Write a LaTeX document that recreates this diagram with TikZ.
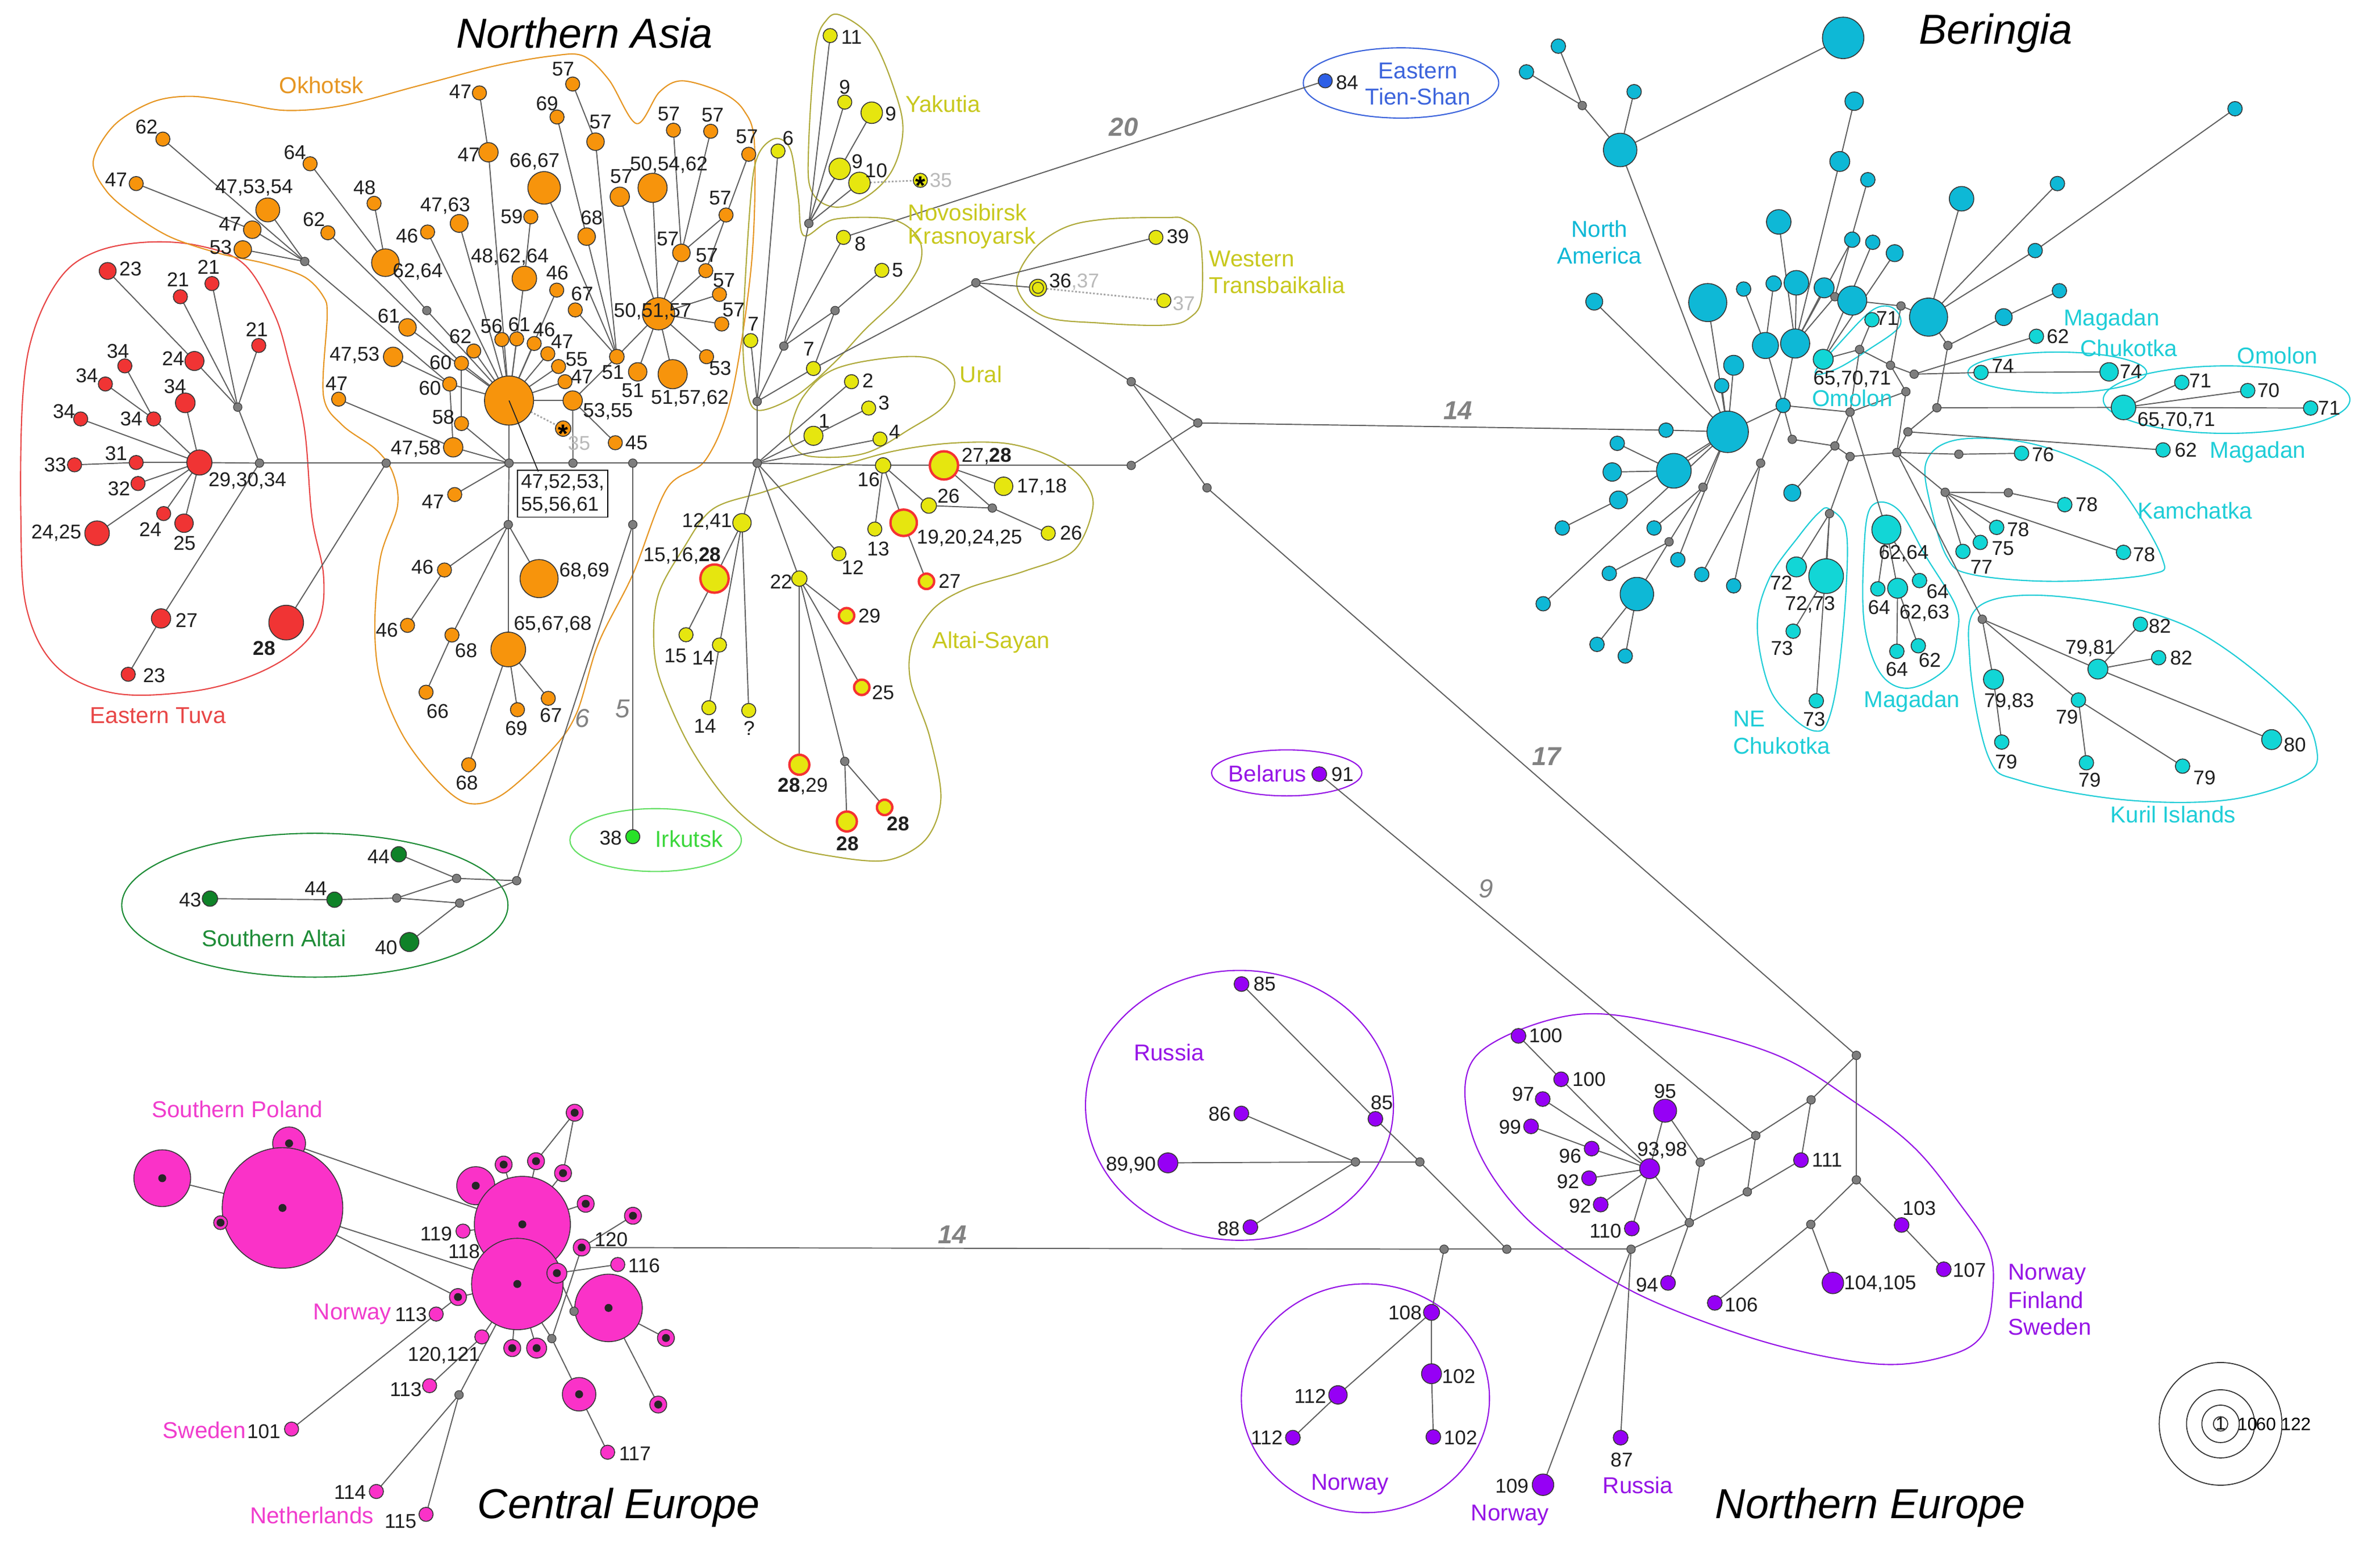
\documentclass[tikz,border=0pt]{standalone}
\usepackage{fontspec}
\setmainfont{Liberation Sans}
\pgfdeclarelayer{bg}
\pgfsetlayers{bg,main}
\definecolor{cOr}{RGB}{247,148,12}
\definecolor{cOrL}{RGB}{230,150,35}
\definecolor{cRd}{RGB}{240,52,52}
\definecolor{cRdL}{RGB}{232,70,70}
\definecolor{cYe}{RGB}{230,230,15}
\definecolor{cYeL}{RGB}{200,200,30}
\definecolor{cYeO}{RGB}{175,170,60}
\definecolor{cRing}{RGB}{245,50,50}
\definecolor{cGd}{RGB}{15,130,40}
\definecolor{cGdL}{RGB}{30,140,55}
\definecolor{cGl}{RGB}{40,225,40}
\definecolor{cGlL}{RGB}{60,215,60}
\definecolor{cBl}{RGB}{45,95,230}
\definecolor{cBlL}{RGB}{60,100,220}
\definecolor{cCy}{RGB}{14,184,214}
\definecolor{cTq}{RGB}{18,214,214}
\definecolor{cTqL}{RGB}{30,205,215}
\definecolor{cPu}{RGB}{150,0,245}
\definecolor{cPuL}{RGB}{150,20,230}
\definecolor{cPk}{RGB}{250,50,200}
\definecolor{cPkL}{RGB}{240,60,205}
\definecolor{cGy}{RGB}{125,125,125}
\definecolor{edgeC}{RGB}{95,95,95}
\definecolor{bordC}{RGB}{55,55,55}
\definecolor{cNum}{RGB}{130,130,130}
\newcounter{lbc}
\newcommand\ML[3][]{\stepcounter{lbc}\node[lab,#1] (lbl\arabic{lbc}) at (#2) {#3};}
\newcommand\PK[4][]{\node[nK=#4,#1] (#2) at (#3) {};\node[dotk] (#2d) at (#3) {};}
\tikzset{
  ed/.style={draw=edgeC, line width=0.55pt},
  dtl/.style={draw=gray!70, line width=0.8pt, dash pattern=on 0.9pt off 0.9pt},
  bs/.style={circle, inner sep=0pt, outer sep=0pt, draw=bordC, line width=0.45pt, minimum size={0.054cm*(#1)}},
  nR/.style={bs=#1, fill=cRd}, nR/.default=4.6,
  nO/.style={bs=#1, fill=cOr}, nO/.default=4.6,
  nY/.style={bs=#1, fill=cYe}, nY/.default=4.6,
  nYR/.style={bs=#1, fill=cYe, draw=cRing, line width=1.2pt}, nYR/.default=5,
  nC/.style={bs=#1, fill=cCy}, nC/.default=4.7,
  nT/.style={bs=#1, fill=cTq}, nT/.default=4.7,
  nP/.style={bs=#1, fill=cPu}, nP/.default=4.8,
  nK/.style={bs=#1, fill=cPk}, nK/.default=4.6,
  nGd/.style={bs=#1, fill=cGd}, nGd/.default=5,
  nG/.style={circle, inner sep=0pt, outer sep=0pt, fill=cGy, draw=gray!50!black, line width=0.35pt, minimum size=0.15cm},
  dotk/.style={circle, inner sep=0pt, fill=black!85, minimum size=0.14cm},
  lab/.style={font=\fontsize{10}{11}\selectfont, inner sep=0pt, text=black!88},
  rl/.style={font=\fontsize{11.5}{13}\selectfont, inner sep=0pt},
  ttl/.style={font=\fontsize{21}{24}\selectfont\itshape, inner sep=0pt, text=black},
  nb/.style={font=\fontsize{13}{14}\selectfont\itshape, text=cNum, inner sep=0pt},
  nbb/.style={font=\fontsize{13}{14}\selectfont\bfseries\itshape, text=cNum, inner sep=0pt},
  ast/.style={font=\fontsize{13}{13}\selectfont\bfseries, inner sep=0pt, yshift=-2.6pt},
  ol/.style={line width=0.6pt},
  lg/.style={circle, draw=black!80, line width=0.5pt, inner sep=0pt, minimum size={0.054cm*(#1)}},
}
\begin{document}
\begin{tikzpicture}[x=0.027cm, y=-0.027cm]
\useasboundingbox (0,0) rectangle (1551.85,1008.15);
\begin{pgfonlayer}{bg}\fill[white] (0,0) rectangle (1551.85,1008.15);\end{pgfonlayer}

% ---------------- titles
\node[ttl] (T1) at (381.1,21.5) {Northern Asia};
\node[ttl] (T2) at (1301.3,21.5) {Beringia};
\node[ttl] (T3) at (403.4,983.1) {Central Europe};
\node[ttl] (T4) at (1219.5,983.1) {Northern Europe};

% ---------------- Eastern Tuva (red)
\node[nR=5.5] (r23a) at (70.2,176.7) {};
\node[nR] (r21a) at (117.6,193.5) {};
\node[nR] (r21b) at (138.2,184.9) {};
\node[nR] (r21c) at (168.7,225.3) {};
\node[nR=6.2] (r24a) at (126.8,235.4) {};
\node[nR] (r34a) at (81.4,238.6) {};
\node[nR] (r34b) at (68.7,250.4) {};
\node[nR=6.4] (r34c) at (120.8,262.7) {};
\node[nR] (r34d) at (52.6,273.2) {};
\node[nR] (r34e) at (100.2,273.2) {};
\node[nR] (r33) at (48.6,303.1) {};
\node[nR] (r31) at (88.8,301.6) {};
\node[nR=8.2] (rH) at (130,301.6) {};
\node[nR] (r32) at (90,315.3) {};
\node[nR=8] (r2425) at (63.3,347.7) {};
\node[nR] (r24b) at (106.7,334.9) {};
\node[nR=6] (r25) at (120,341.2) {};
\node[nR=6.3] (r27) at (105,403.3) {};
\node[nR=11.3] (r28) at (186.6,406) {};
\node[nR] (r23b) at (83.6,439.7) {};
\node[nG] (rg1) at (155,265.5) {};
\node[nG] (rg2) at (169.2,302) {};
\node[nG] (rg3) at (251.8,302) {};

% ---------------- Okhotsk (orange)
\node[nO=16] (oBN) at (331.9,261.2) {};
\node[nO] (o62a) at (106.2,90.7) {};
\node[nO] (o47a) at (88.8,119.7) {};
\node[nO] (o64a) at (202.2,106.8) {};
\node[nO=7.8] (o475354) at (174.6,136.9) {};
\node[nO=5.7] (o47b) at (164.5,149.8) {};
\node[nO=5.7] (o53a) at (158.3,162.7) {};
\node[nG] (og1) at (198.7,170.5) {};
\node[nO] (o62b) at (213.8,151.8) {};
\node[nO] (o48) at (243.9,132.6) {};
\node[nO=9] (o6264) at (251.3,171.3) {};
\node[nO=5.8] (o4763) at (299.4,145.7) {};
\node[nO] (o46a) at (278.8,151.3) {};
\node[nG] (og2) at (278.3,202.5) {};
\node[nO=5.7] (o61a) at (265.7,213.5) {};
\node[nO=6.3] (o4753) at (256.3,232.7) {};
\node[nO] (o47c) at (220.8,260.3) {};
\node[nO] (o62c) at (308.9,228.9) {};
\node[nO] (o60a) at (300.9,236.9) {};
\node[nO] (o60b) at (293.2,250.4) {};
\node[nO] (o58) at (300.9,276.2) {};
\node[nO=6.3] (o4758) at (295.5,291.7) {};
\node[nO] (o56) at (327.2,221.4) {};
\node[nO] (o61b) at (336.9,221) {};
\node[nO] (o46b) at (348.3,224) {};
\node[nO] (o47d) at (357.2,230.7) {};
\node[nO] (o55) at (364.2,239) {};
\node[nO] (o47e) at (368.4,248.9) {};
\node[nO=6.3] (o5355) at (373.4,261.2) {};
\node[nO=5] (o35) at (367.2,279.5) {};
\node[ast] (o35s) at (367.2,279.5) {*};
\node[nG] (og3) at (331.9,302) {};
\node[nG] (og4) at (373.6,302) {};
\node[nO] (o47f) at (296.5,322.5) {};
\node[nO] (o46c) at (363,189.2) {};
\node[nO] (o67a) at (375.1,202.1) {};
\node[nO=8] (o486264) at (341.9,181.6) {};
\node[nO] (o59) at (346.1,141.4) {};
\node[nO=10.6] (o6667) at (354.8,122.5) {};
\node[nO=6.3] (o47g) at (318.5,99.3) {};
\node[nO] (o47h) at (312.6,60.6) {};
\node[nO] (o69a) at (363.2,76.3) {};
\node[nO] (o57a) at (373.4,54.8) {};
\node[nO=5.7] (o68a) at (382.5,154.3) {};
\node[nO=5.7] (o57b) at (388.3,92.4) {};
\node[nO] (o57c) at (439.1,84.9) {};
\node[nO] (o57d) at (463.4,85.6) {};
\node[nO] (o57e) at (488.2,100.6) {};
\node[nO=6.3] (o57f) at (404.1,128.3) {};
\node[nO=9.5] (o505462) at (425.5,122.5) {};
\node[nO] (o57g) at (473.4,140.2) {};
\node[nO=5.7] (o57h) at (444.3,164.9) {};
\node[nO] (o57i) at (460.2,176.5) {};
\node[nO] (o57j) at (469.1,192) {};
\node[nO] (o57k) at (470.6,211.3) {};
\node[nO=10.5] (oH) at (429.4,204.6) {};
\node[nO=4.8] (o51a) at (402.2,232.6) {};
\node[nO=6] (o51b) at (415.8,242.5) {};
\node[nO=9.5] (o515762) at (438.6,244) {};
\node[nO] (o53b) at (460.7,232.6) {};
\node[nO] (o45) at (401.2,288.7) {};
\node[nG] (og5) at (412.6,302) {};
\node[nG] (og7) at (412.6,342.1) {};
\node[nG] (og6) at (331.4,342.1) {};
\node[nO] (o46d) at (289.8,371.7) {};
\node[nO=12.4] (o6869) at (351.5,377.3) {};
\node[nO] (o46e) at (265.7,407.8) {};
\node[nO] (o68b) at (294.7,414.1) {};
\node[nO=11.3] (o656768) at (331.4,423.5) {};
\node[nO] (o66) at (277.8,451.4) {};
\node[nO] (o69b) at (337.4,462.8) {};
\node[nO] (o67b) at (357.5,455.4) {};
\node[nO] (o68c) at (305.6,498.7) {};
\node[draw=black, line width=0.5pt, fill=white, font=\fontsize{10}{11.5}\selectfont, align=left, inner sep=1.8pt, text=black!88] (box) at (366.9,322) {47,52,53,\\55,56,61};
\coordinate (bxp) at (351,307.5);

% ---------------- yellow clusters
\node[nY] (y11) at (541.3,23.2) {};
\node[nY] (y9a) at (550.8,66.6) {};
\node[nY=7] (y9b) at (568.4,73.5) {};
\node[nY=7] (y9c) at (547.5,110.1) {};
\node[nY=7] (y10) at (560.4,119.3) {};
\node[nY] (y35) at (600.1,117.6) {};
\node[ast] (y35s) at (600.1,117.6) {*};
\node[nG] (ygY) at (527.4,145.7) {};
\node[nY] (y6) at (507.3,98.5) {};
\node[nY] (y8) at (550,154.8) {};
\node[nY] (y5) at (575,176.3) {};
\node[nG] (yg3) at (544.5,202.5) {};
\node[nG] (yg2) at (511.1,225.7) {};
\node[nY] (y7a) at (489.5,222.1) {};
\node[nY] (y7b) at (530.4,240.3) {};
\node[nG] (yg1) at (493.7,261.8) {};
\node[nY] (y2) at (555.2,248.9) {};
\node[nY] (y3) at (566.4,266.1) {};
\node[nY=6.2] (y1) at (530.4,284.2) {};
\node[nY] (y4) at (573.8,286.3) {};
\node[nG] (yg0) at (493.7,302) {};
\node[nY=5] (y16) at (575.8,303.5) {};
\node[nYR=9.2] (y2728) at (615.5,303.5) {};
\node[nY=6] (y1718) at (654.4,317.1) {};
\node[nY=5] (y26a) at (605.6,329.7) {};
\node[nG] (yg4) at (647,331.3) {};
\node[nY] (y26b) at (683.5,347.7) {};
\node[nG] (yg5) at (737.6,248.9) {};
\node[nG] (yg6) at (737.6,303.5) {};
\node[nG] (yg7) at (781,275.8) {};
\node[nG] (yg8) at (787,318.1) {};
\node[nG] (ygW) at (636.3,184.4) {};
\node[nY=5.6] (y36) at (676.8,187.7) {};
\node[circle, draw=bordC, line width=0.4pt, inner sep=0pt, minimum size={0.054cm*3.6}] (y36i) at (676.8,187.7) {};
\node[nY] (y39) at (753.7,154.8) {};
\node[nY] (y37) at (758.9,196) {};
\node[nY=6] (y1241) at (483.8,340.9) {};
\node[nY] (y13) at (570.4,345) {};
\node[nYR=8.6] (y19) at (589.2,340.9) {};
\node[nYR=9.2] (y151628) at (465.9,377.3) {};
\node[nY] (y12) at (547,361.1) {};
\node[nY=5] (y22) at (521.2,377.3) {};
\node[nYR] (y27) at (604.1,379.1) {};
\node[nYR] (y29) at (552,401.5) {};
\node[nY] (y15) at (447.3,413.9) {};
\node[nY] (y14a) at (469.1,420.6) {};
\node[nY] (y14b) at (462.2,461.5) {};
\node[nY] (yq) at (488.2,463.3) {};
\node[nYR] (y25) at (561.9,448.2) {};
\node[nYR=6.5] (y2829) at (521.2,498.7) {};
\node[nG] (yg9) at (550.8,496.5) {};
\node[nYR=6.5] (y28a) at (552.2,535.7) {};
\node[nYR] (y28b) at (576.8,526.5) {};

% ---------------- green, blue
\node[bs=4.6, fill=cGl] (gI38) at (412.6,545.6) {};
\node[nGd] (a44a) at (260,557.1) {};
\node[nGd] (a43) at (136.9,586) {};
\node[nGd] (a44b) at (218.1,586.7) {};
\node[nGd=6.2] (a40) at (266.9,614.3) {};
\node[nG] (ag1) at (297.7,572.8) {};
\node[nG] (ag2) at (336.9,574.3) {};
\node[nG] (ag3) at (258.7,585.6) {};
\node[nG] (ag4) at (299.7,588.9) {};
\node[bs=4.6, fill=cBl] (b84) at (864.1,52.7) {};

% ---------------- Beringia
\node[nC] (c1) at (1016.1,30.1) {};
\node[nC] (c2) at (995.3,46.9) {};
\node[nG] (cg1) at (1031.7,68.8) {};
\node[nC] (c3) at (1065.5,59.8) {};
\node[nC=10.9] (c4) at (1056.4,97.8) {};
\node[nC=5.5] (c5) at (1039.5,196.7) {};
\node[nC=12.4] (c6) at (1113.5,197.3) {};
\node[nC] (c7) at (1136.9,188.5) {};
\node[nC] (c8) at (1122.6,251.5) {};
\node[nC=6.5] (c9) at (1130.4,238.2) {};
\node[nC=8.5] (c10) at (1151.1,225.3) {};
\node[nC=13.5] (cC) at (1126.5,281.6) {};
\node[nC] (c11) at (1086.3,280.5) {};
\node[nC] (c12) at (1054.5,289.1) {};
\node[nC=11.3] (c13) at (1091.4,307) {};
\node[nC=6] (c14) at (1051.2,307.8) {};
\node[nC=5.8] (c15) at (1055.3,326) {};
\node[nG] (cg2) at (1110.4,317.7) {};
\node[nG] (cg3) at (1148,302) {};
\node[nC=13.5] (c16) at (1201.8,24.7) {};
\node[nC=6] (c17) at (1209,66) {};
\node[nC=6.5] (c18) at (1199.6,105.3) {};
\node[nC] (c19) at (1217.9,117.2) {};
\node[nC=8] (c20) at (1279,129.6) {};
\node[nC] (c21) at (1341.5,119.7) {};
\node[nC] (c22) at (1457.3,70.9) {};
\node[nC=8] (c23) at (1159.8,144.7) {};
\node[nC=5] (c24) at (1207.7,156.3) {};
\node[nC] (c25) at (1221.1,158) {};
\node[nC=5.5] (c26) at (1235.4,165.1) {};
\node[nC] (c27) at (1327,163.4) {};
\node[nC] (c28) at (1342.8,189.6) {};
\node[nC=5.5] (c29) at (1306.5,206.8) {};
\node[nC=5] (c31) at (1156.5,184.9) {};
\node[nC=8] (c32) at (1171.3,184.4) {};
\node[nC=6.5] (c33) at (1189.4,187.7) {};
\node[nG] (cg4) at (1196.4,193.5) {};
\node[nC=9.5] (c34) at (1207.7,196) {};
\node[nG] (cg5) at (1239.5,199.5) {};
\node[nC=12.4] (c35) at (1257.5,206.8) {};
\node[nC=9.5] (c36) at (1170.5,224) {};
\node[nC] (cH) at (1162.7,264.4) {};
\node[nC=5.5] (c37) at (1168.6,321.4) {};
\node[nC] (c38) at (1018.7,344.3) {};
\node[nC] (c39) at (1078.5,344.3) {};
\node[nG] (cg6) at (1088.3,353.3) {};
\node[nC] (c40) at (1094,365) {};
\node[nC] (c41) at (1109.6,374.6) {};
\node[nC] (c42) at (1130.4,382) {};
\node[nC] (c43) at (1049.3,373.9) {};
\node[nC=10.9] (c44) at (1067.3,387.4) {};
\node[nC] (c45) at (1006.2,393.7) {};
\node[nC] (c46) at (1041.3,420.2) {};
\node[nC] (c47) at (1059.7,427.8) {};
\node[nT] (t71) at (1220.6,208.5) {};
\node[nT=6.5] (t657071) at (1188.8,234.3) {};
\node[nG] (ga) at (1212.5,227.9) {};
\node[nG] (gb) at (1232.7,238.2) {};
\node[nG] (gc) at (1248.1,244) {};
\node[nG] (gd) at (1242.7,255.4) {};
\node[nG] (ge) at (1270.1,225.3) {};
\node[nG] (gf) at (1262.9,265.9) {};
\node[nG] (gg) at (1206.3,268.7) {};
\node[nG] (gh) at (1244,281.6) {};
\node[nG] (gi) at (1168.6,286.5) {};
\node[nG] (gj) at (1196.4,290.8) {};
\node[nG] (gk) at (1206.3,297.7) {};
\node[nG] (gl) at (1236.8,295.1) {};
\node[nG] (gm) at (1277.2,296.2) {};
\node[nT] (t62a) at (1327.8,219.3) {};
\node[nT] (t74a) at (1291.7,242.9) {};
\node[nT=6] (t74b) at (1375.2,242.5) {};
\node[nT=8] (t657071b) at (1384.6,265.7) {};
\node[nT] (t71b) at (1422.6,249.4) {};
\node[nT] (t70) at (1465.6,254.7) {};
\node[nT] (t71c) at (1506.6,266.1) {};
\node[nT] (t62b) at (1410.4,293.4) {};
\node[nT] (t76) at (1318.1,295.6) {};
\node[nG] (gK1) at (1268.3,321) {};
\node[nG] (gK2) at (1309.5,321.3) {};
\node[nT] (t78a) at (1346.3,329.1) {};
\node[nT] (t78b) at (1301.9,343.9) {};
\node[nT] (t75) at (1291.2,353.7) {};
\node[nT] (t77) at (1279.9,359.6) {};
\node[nT] (t78c) at (1384.6,360.2) {};
\node[nG] (tNEg) at (1192.9,334.9) {};
\node[nT=6.5] (t72) at (1171.3,369.7) {};
\node[nT=11.3] (t7273) at (1190.7,375.7) {};
\node[nT] (t73a) at (1169.2,411.6) {};
\node[nT] (t73b) at (1184.3,457) {};
\node[nT=9.5] (t6264) at (1230,345.4) {};
\node[nT] (t64a) at (1224.4,384) {};
\node[nT=6.5] (t6263) at (1237.3,383.6) {};
\node[nT] (t64b) at (1251.6,378.6) {};
\node[nT] (t64c) at (1236.8,424.7) {};
\node[nT] (t62c) at (1250.8,421.1) {};
\node[nG] (tKg) at (1292.5,403.8) {};
\node[nT=6.5] (t7983) at (1299.8,443) {};
\node[nT] (t79a) at (1305.2,483.9) {};
\node[nT] (t79b) at (1355.2,456.5) {};
\node[nT] (t79c) at (1360.4,497.4) {};
\node[nT] (t79d) at (1423.1,499.6) {};
\node[nT=6.5] (t7981) at (1367.9,436.3) {};
\node[nT] (t82a) at (1395.6,407.1) {};
\node[nT] (t82b) at (1407.5,428.9) {};
\node[nT=6.5] (t80) at (1481.2,482.3) {};

% ---------------- Northern Europe (purple)
\node[nP] (p91) at (860.2,504.8) {};
\node[nP] (p85a) at (809.5,641.7) {};
\node[nP] (p86) at (809.4,726.1) {};
\node[nP=6.5] (p8990) at (761.5,758.3) {};
\node[nP] (p88) at (815.3,800.2) {};
\node[nP] (p85b) at (896.8,729.6) {};
\node[nG] (pg1) at (883.8,757.7) {};
\node[nG] (pg2) at (925.8,757.7) {};
\node[nG] (pg3) at (941.6,814.6) {};
\node[nG] (pg4) at (982.5,814.6) {};
\node[nG] (pg5) at (1063.5,814.6) {};
\node[nP=5.2] (p108) at (933.4,855.8) {};
\node[nP=6.5] (p102a) at (933.4,895.8) {};
\node[nP] (p102b) at (934.6,937) {};
\node[nP=6] (p112a) at (872.4,909.6) {};
\node[nP] (p112b) at (843,937.5) {};
\node[nP] (p100a) at (990.1,675.5) {};
\node[nP] (p100b) at (1017.9,703.8) {};
\node[nP] (p97) at (1005.9,716.7) {};
\node[nP] (p99) at (998.3,734.5) {};
\node[nP] (p96) at (1037.8,749) {};
\node[nP] (p92a) at (1036.1,768.3) {};
\node[nP] (p92b) at (1043.7,785.5) {};
\node[nP] (p110) at (1064,801.1) {};
\node[nP=6.5] (p9398) at (1075.6,762.1) {};
\node[nP=7.5] (p95) at (1085.7,724.3) {};
\node[nG] (pg6) at (1108.6,757.9) {};
\node[nG] (pg7) at (1101.5,797.3) {};
\node[nG] (pg8) at (1144.8,740.5) {};
\node[nG] (pg9) at (1139.3,777.2) {};
\node[nG] (pg10) at (1180.9,717.2) {};
\node[nG] (pg11) at (1210.4,688.2) {};
\node[nG] (pg12) at (1210.4,769.4) {};
\node[nG] (pg13) at (1180.7,798.4) {};
\node[nP] (p111) at (1174.3,756.5) {};
\node[nP] (p94) at (1087.6,836.6) {};
\node[nP] (p106) at (1118.1,849.6) {};
\node[nP=7] (p104105) at (1195.1,836.6) {};
\node[nP] (p103) at (1239.9,798.8) {};
\node[nP] (p107) at (1267.4,827.7) {};
\node[nP=7] (p109) at (1006.1,968.2) {};
\node[nP] (p87) at (1056.7,937.5) {};

% ---------------- Central Europe (pink)
\PK{k3}{188.5,745.6}{10.7}
\PK{k2}{105.8,768.3}{18.5}
\PK{k1}{184.2,787.7}{39.3}
\PK{k4}{143.8,797.3}{4.5}
\PK{kD}{310.2,773.2}{12.4}
\PK{kA}{340.6,798.4}{31.3}
\PK{kB}{337.3,837.3}{29.8}
\PK{kC}{396.8,852.9}{22}
\PK{k5}{328.4,759.4}{5.5}
\PK{k6}{349.5,757.2}{5.5}
\PK{k7}{367.1,765}{5.5}
\PK{k8}{374.7,725.6}{5.5}
\PK{k9}{381.9,785}{5.5}
\PK{k10}{412.7,792.8}{5.5}
\PK{k120}{379.3,813.5}{5.5}
\PK{k11}{363.1,830.2}{6.5}
\PK{k12}{298.6,845.8}{5.5}
\PK{k13}{334,879.1}{5.5}
\PK{k14}{349.9,879.1}{6.5}
\PK{k15}{434.2,872.5}{5.5}
\PK{k16}{377.6,909.2}{10.9}
\PK{k17}{429.2,915.9}{5.5}
\node[nK] (k119) at (301.9,802.8) {};
\node[nK] (k116) at (402.8,824.6) {};
\node[nK] (k113a) at (284.4,856.9) {};
\node[nK] (k120121) at (314.2,871.8) {};
\node[nK] (k113b) at (280.1,903.6) {};
\node[nK] (k101) at (190.1,931.9) {};
\node[nK] (k117) at (396.2,947) {};
\node[nK] (k114) at (245.4,972.6) {};
\node[nK] (k115) at (277.8,987.5) {};
\node[nG] (kg1) at (374.3,855.1) {};
\node[nG] (kg2) at (359.8,872.9) {};
\node[nG] (kg3) at (299.3,909.6) {};

% ---------------- legend
\node[lg=40] (lg1) at (1447.9,928.5) {};
\node[lg=22.2] (lg2) at (1447.9,928.5) {};
\node[lg=12.2] (lg3) at (1447.9,928.5) {};
\node[lg=4.7] (lg4) at (1447.9,928.5) {};
\node[font=\fontsize{9}{9}\selectfont, inner sep=0pt] (lgt1) at (1447.9,928.5) {1};
\node[font=\fontsize{9}{9}\selectfont, inner sep=0pt] (lgt2) at (1465.4,928.6) {10};
\node[font=\fontsize{9}{9}\selectfont, inner sep=0pt] (lgt3) at (1477.5,928.6) {60};
\node[font=\fontsize{9}{9}\selectfont, inner sep=0pt] (lgt4) at (1497,928.6) {122};

% ---------------- edges and outlines
\begin{pgfonlayer}{bg}
\draw[ol, draw=cRdL] plot[smooth cycle, tension=0.6] coordinates {(94.3,158) (129,160.1) (158.8,172) (178.6,204.2) (188.5,236.5) (198.5,279.5) (203.4,337) (210.9,374.6) (208.4,403.8) (193.5,424) (163.7,440.8) (124,451) (74.4,452) (37.2,435) (17.4,397) (13.6,337) (14.9,258) (22.3,215) (39.7,180.6) (62,164.4)};
\draw[ol, draw=cOrL] plot[smooth cycle, tension=0.55] coordinates {(60.8,105.3) (74.4,81.7) (99.2,66.6) (124,62.8) (153.8,66.6) (186,72) (223.3,68.8) (272.9,55.9) (322.5,43) (359.7,36.5) (380.3,36.5) (397,52) (415,80.6) (430,60) (444.8,52.7) (470,60) (485,72) (492,95) (490,172) (477,258) (460,300) (434.9,318.5) (412.6,374.6) (390.2,419.5) (376,465) (359.7,489) (327.5,518.2) (305.1,523.8) (285.3,509.3) (263,480.1) (248.1,444.2) (244.4,408.3) (248.1,363.4) (259.2,330) (256,308) (245,293) (223.3,277.3) (210.9,258) (213.3,206.4) (210.9,193.5) (198.5,180.6) (173.7,172) (143.9,165.5) (111.6,154.8) (86.8,139.7) (69.5,124.7)};
\draw[ol, draw=cYeO] plot[smooth cycle, tension=0.6] coordinates {(549,10.3) (568.9,25.8) (583.7,60.2) (588.7,86) (581.3,111.8) (563.9,129) (544,135) (529.2,124.7) (527.2,96.7) (531.7,32.2) (539.1,12.9)};
\draw[ol, draw=cYeO] plot[smooth cycle, tension=0.55] coordinates {(524.2,153.7) (544,143) (581.3,143) (598.6,154.8) (599.9,172) (586.2,193.5) (563.9,215) (544,236.5) (519.2,258) (494.4,267.6) (487,253.7) (484.5,215) (489.5,129) (494.4,101) (505.6,90.3) (515.5,97.8) (520.5,129)};
\draw[ol, draw=cYeO] plot[smooth cycle, tension=0.6] coordinates {(515.5,279.5) (524.2,258) (544,240.8) (581.3,233.2) (608.6,234.3) (622.2,247.2) (616,264.4) (593.7,279.5) (563.9,295.6) (529.2,297.7) (516.8,290.2)};
\draw[ol, draw=cYeO] plot[smooth cycle, tension=0.55] coordinates {(464.7,332) (499.4,320.3) (544,305.3) (581.3,294.5) (618.5,289.1) (655.7,289.1) (685.5,297.7) (705.3,311.7) (712.7,330) (700.3,358.9) (668.1,372.4) (630.9,383.6) (608.6,397) (594.9,419.5) (593.7,444.2) (606.1,480.1) (613.5,520.5) (603.6,547.4) (578.8,560.9) (544,558.6) (509.3,549.7) (477.1,525) (449.8,486.8) (430,441.9) (426.2,412.8) (429.9,385.8) (444.8,358.9)};
\draw[ol, draw=cYeO] plot[smooth cycle, tension=0.6] coordinates {(663.1,187) (672,165) (692.9,149) (720,143) (759.4,141.9) (772,143) (782.3,154.8) (783.6,193.5) (776,207) (760,212) (717.7,210.7) (680,206)};
\draw[ol, draw=cGlL!80] (427.5,547.8) ellipse [x radius=55.9, y radius=20.5];
\draw[ol, draw=cGdL] (205.3,590.3) ellipse [x radius=125.9, y radius=46.9];
\draw[ol, draw=cBlL] (913.5,54.1) ellipse [x radius=63.7, y radius=22.9];
\draw[ol, draw=cPuL] (839,504) ellipse [x radius=49, y radius=15];
\draw[ol, draw=cPuL] (808.2,720.8) ellipse [x radius=100.4, y radius=88];
\draw[ol, draw=cPuL] (890.3,911.8) ellipse [x radius=80.9, y radius=74.6];
\draw[ol, draw=cPuL] plot[smooth cycle, tension=0.6] coordinates {(1029,661.5) (1088.1,668.2) (1158.9,688.2) (1210.4,719.4) (1248.1,748.3) (1277,783.9) (1297,815) (1299.2,844) (1292.5,870.7) (1270.3,884) (1225.9,889.6) (1159,877.4) (1088.1,852.9) (1040.8,828.4) (993.6,792.8) (962.9,748.3) (955.8,703.8) (974.7,679.3)};
\draw[ol, draw=cTqL] (1341.4,242.9) ellipse [x radius=58.3, y radius=13.3];
\draw[ol, draw=cTqL] (1451.8,260.6) ellipse [x radius=80.4, y radius=22];
\draw[ol, draw=cTqL] plot[smooth cycle, tension=0.6] coordinates {(1183.5,242.9) (1199.6,223.6) (1221.1,202.1) (1234.6,201) (1238.6,212.8) (1218.5,227.9) (1196.9,240.8)};
\draw[ol, draw=cTqL] plot[smooth cycle, tension=0.6] coordinates {(1192.9,332) (1203.6,345.4) (1203.6,385.8) (1198.3,441.9) (1191.5,471.1) (1183.5,476.7) (1170,468.9) (1153.8,448.7) (1145.8,408.3) (1153.8,376.9) (1172.7,349.9) (1186.1,334.2)};
\draw[ol, draw=cTqL] plot[smooth cycle, tension=0.6] coordinates {(1219.8,330.8) (1237.3,332) (1256.1,363.4) (1275,394.8) (1276.3,412.8) (1269.6,435.2) (1245.4,448.7) (1226.5,439.7) (1215.8,408.3) (1215.2,363.4)};
\draw[ol, draw=cTqL] plot[smooth cycle, tension=0.6] coordinates {(1256.1,301) (1275,287) (1318,288) (1358.5,301) (1382.7,318.5) (1409.6,363.4) (1401.5,374.6) (1339.6,379.1) (1285.8,374.6) (1269.6,363.4) (1258.8,329.7)};
\draw[ol, draw=cTqL] plot[smooth cycle, tension=0.6] coordinates {(1291.2,394.8) (1345,389.2) (1425.8,408.3) (1493.1,457.6) (1510.6,489) (1501.2,507) (1452.7,521.6) (1385.4,521.6) (1318.1,509.3) (1296.5,493.5) (1284.4,430.7)};
\foreach \a/\b in {r33/r31, r31/rH, rH/r34d, rH/r34e, r34e/r34b, r34e/r34a, rH/r34c, rH/r32, rH/r2425, rH/r24b, rH/r25, rH/rg2, rg2/rg1, rg1/r24a, r24a/r23a, rg1/r21a, rg1/r21b, rg1/r21c, rg2/r27, r27/r23b, rg2/rg3, rg3/r28,
 oBN/og3, oBN/o56, oBN/o61b, oBN/o46b, oBN/o47d, oBN/o55, oBN/o47e, oBN/o5355, oBN/o62c, oBN/o60a, oBN/o60b, oBN/o47g, o47g/o47h, oBN/o4763, oBN/o46a, oBN/o486264, o486264/o59, oBN/o46c, oBN/og2, og2/o6264, o6264/o48, o6264/o64a, oBN/o61a, o62b/o60a, o4753/o60b, og1/o60b, og1/o475354, og1/o47b, og1/o53a, og1/o62a, o47a/o47b, o60a/o58, o60b/o4758, o58/og3, o4758/og3, o47c/o4758, og3/o47f, o5355/og4, o5355/o51a, o5355/o45, o67a/o51a, o6667/o51a, o69a/o68a, o68a/o51a, o57a/o57b, o57b/o51a, o51a/oH, oH/o57f, oH/o505462, oH/o57h, o57h/o57c, o57h/o57d, o57h/o57g, o57e/o57i, o57i/oH, oH/o57j, oH/o57k, oH/o53b, oH/o515762, oH/o51b,
 rg3/og3, og3/og4, og4/og5, og5/yg0, og5/og7, og7/gI38, og7/ag2, og3/og6, og6/o46d, o46d/o46e, og6/o68b, o68b/o66, og6/o656768, og6/o6869, o656768/o69b, o656768/o67b, o656768/o68c,
 ag2/ag1, ag1/a44a, a43/a44b, a44b/ag3, ag3/ag1, ag3/ag4, ag4/ag2, ag4/a40,
 yg0/yg1, yg1/y6, yg1/y7a, yg1/yg2, yg1/y7b, yg2/y8, yg2/yg3, yg2/ygY, yg3/y5, yg3/y7b, y7b/ygW, ygY/y11, ygY/y9a, ygY/y9b, ygY/y9c, ygY/y10, y8/b84, ygW/y39, ygW/y36, ygW/yg5, yg0/y1, y1/y3, yg0/y2, yg0/y4, yg0/y16, y16/y2728, y2728/yg6, y2728/y1718, y2728/yg4, y16/y26a, y26a/yg4, yg4/y26b, y16/y13, y16/y19, y19/y27, yg0/y1241, y1241/y151628, y151628/y15, y1241/y14a, y14a/y14b, y1241/yq, yg0/y22, yg0/y12, y22/y29, y22/y25, y22/y2829, y22/yg9, yg9/y28a, yg9/y28b, yg5/yg7, yg5/yg8, yg6/yg7, yg7/c11, yg8/pg11,
 c16/c4, cg1/c1, cg1/c2, cg1/c4, c3/c4, c4/cC, c5/cC, c6/cC, c7/c10, c8/cC, c9/cC, c11/cC, c12/c13, c14/c13, c13/cC, c15/cC, c38/c15, cg2/cC, c39/cg2, cg6/cg2, cg6/c43, cg6/c44, c44/c46, c44/c47, c45/cC, c40/cC, c41/cg3, c42/cg3, cg3/cH, cH/cC, c10/cH, c36/cH, c23/c36, c24/c36, c31/c10, c32/c36, c33/c36, c17/c18, c18/c36, c19/cg4, cg4/c36, c34/cg5, cg5/c35, c20/c35, c21/c35, c22/c27, c27/c35, c28/c29, c29/ge, ge/c35, c25/t657071, c26/t657071, t71/ga, t657071/ga, ga/gb, gb/cg5, gb/gc, gc/t74a, t74a/t74b, gc/t62a, ge/gf, gf/t657071b, t657071b/t71b, t657071b/t70, t657071b/t71c, gf/gh, gh/t62b, gd/gb, gd/gl, gg/cH, gg/ga, gg/gd, gg/gj, gg/t6264, gi/cH, gi/gj, gj/gk, gk/gl, gl/gm, gm/t76, gl/gK1, gl/tKg, gk/tNEg, c37/gj, gh/gl, gK1/gK2, gK2/t78a, gK1/t78b, gK1/t75, gK1/t77, gK1/t78c, tKg/t7983, t7983/t79a, tKg/t79b, t79b/t79c, t79b/t79d, tKg/t7981, t7981/t82a, t7981/t82b, t7981/t80, tNEg/t72, tNEg/t7273, t7273/t73a, tNEg/t73b, t6264/t64a, t6264/t6263, t6263/t64c, t6263/t62c, t6264/t64b,
 p91/pg8, pg11/pg10, pg10/pg8, pg10/p111, pg8/pg9, pg9/p111, pg8/pg6, pg6/p95, pg6/pg7, p95/p9398, p9398/pg7, pg7/pg9, pg7/p94, pg7/pg5, pg11/pg12, pg12/pg13, pg13/p106, pg13/p104105, pg12/p103, p103/p107, pg5/p109, pg5/p87, pg5/pg4, pg4/pg3, pg4/pg2, pg2/p85b, p85b/p85a, pg2/pg1, pg1/p86, pg1/p8990, pg1/p88, pg3/p108, p108/p102a, p102a/p102b, p108/p112a, p112a/p112b, p9398/p100b, p100b/p100a, p9398/p97, p9398/p96, p96/p99, p9398/p92a, p9398/p92b, p9398/p110,
 k120/pg3, k1/k2, k3/kA, k1/kB, k1/k12, kA/kD, kA/k5, kA/k6, kA/k7, k6/k8, k7/k8, kA/k9, kA/k119, kB/k11, k11/k116, k11/kg1, kg1/kC, k120/k10, k120/kg2, kC/k15, kC/k17, kB/k13, kB/k14, kB/kg2, kg2/k16, k16/k117, kB/k120121, k120121/k113b, kB/kg3, kg3/k114, kg3/k115, k12/k113a, k113a/k101, k12/kB}
  \draw[ed] (\a) -- (\b);
\draw[dtl] (oBN) -- (o35);
\draw[dtl] (y10) -- (y35);
\draw[dtl] (y36) -- (y37);
\end{pgfonlayer}
\draw[draw=black!85, line width=0.5pt] (bxp) -- (oBN.center);

% ---------------- branch numbers
\node[nbb] (n20) at (732.6,82.8) {20};
\node[nbb] (n14a) at (950.6,267.6) {14};
\node[nbb] (n17) at (1008.3,493.1) {17};
\node[nbb] (n14b) at (620.9,805.1) {14};
\node[nb] (n9) at (968.8,579.5) {9};
\node[nb] (n6) at (379.6,468.4) {6};
\node[nb] (n5) at (405.9,462.1) {5};

% ---------------- labels: red
\ML{85.1,175.2}{23}
\ML{116.1,182.3}{21}
\ML{136,174.1}{21}
\ML{167.5,215}{21}
\ML{112.9,233.9}{24}
\ML{76.9,228.9}{34}
\ML{56.6,245.1}{34}
\ML{114.1,251.9}{34}
\ML{41.7,268.3}{34}
\ML{85.6,273}{34}
\ML{36,303.1}{33}
\ML{75.7,295.6}{31}
\ML{161.3,313.4}{29,30,34}
\ML{77.6,318.6}{32}
\ML{36.7,347.7}{24,25}
\ML{98,345.4}{24}
\ML{120.3,354.4}{25}
\ML{121.6,404.5}{27}
\ML{172.4,422.9}{\textbf{28}}
\ML{100.5,440.4}{23}
\ML[rl,text=cRdL]{103,466.6}{Eastern Tuva}
% orange
\ML[rl,text=cOrL]{209.6,55.5}{Okhotsk}
\ML{95.5,82.8}{62}
\ML{75.7,117.2}{47}
\ML{192.3,99.3}{64}
\ML{165.7,122.5}{47,53,54}
\ML{150,146.2}{47}
\ML{143.9,161.2}{53}
\ML{204.7,143}{62}
\ML{237.7,122.5}{48}
\ML{272.4,177.3}{62,64}
\ML{290.3,134.4}{47,63}
\ML{265.4,153.7}{46}
\ML{253.5,205.9}{61}
\ML{231.2,231.5}{47,53}
\ML{219.5,250}{47}
\ML{300.2,219.3}{62}
\ML{287.3,236.5}{60}
\ML{280.3,253.2}{60}
\ML{289,272}{58}
\ML{271.1,292.8}{47,58}
\ML{320.5,212.8}{56}
\ML{338.6,211.8}{61}
\ML{354.8,215}{46}
\ML{366.5,222.6}{47}
\ML{376,234.2}{55}
\ML{379.5,245.6}{47}
\ML{396.4,268.3}{53,55}
\ML[text=gray!55]{377.6,289.1}{35}
\ML{282.3,327.2}{47}
\ML{363.4,178}{46}
\ML{379.6,191.7}{67}
\ML{332.4,167.7}{48,62,64}
\ML{333.7,141.4}{59}
\ML{348.6,105.3}{66,67}
\ML{305.6,101}{47}
\ML{300.2,59.8}{47}
\ML{356.7,67.7}{69}
\ML{367.2,45.1}{57}
\ML{385.8,141.9}{68}
\ML{391.5,79.5}{57}
\ML{436.1,74.2}{57}
\ML{464.7,75.2}{57}
\ML{487,89.2}{57}
\ML{405.1,115}{57}
\ML{436.1,107.5}{50,54,62}
\ML{469.6,129}{57}
\ML{435.4,155.8}{57}
\ML{460.9,166.6}{57}
\ML{472.1,182.7}{57}
\ML{478.3,202.1}{57}
\ML{425.6,203.1}{50,51,57}
\ML{399.7,242.9}{51}
\ML{412.6,254.7}{51}
\ML{449.8,259.7}{51,57,62}
\ML{469.6,240.3}{53}
\ML{415,288.7}{45}
\ML{275.4,369.7}{46}
\ML{381,372.4}{68,69}
\ML{252.3,411}{46}
\ML{303.9,424.4}{68}
\ML{360.4,407.1}{65,67,68}
\ML{285.3,463.9}{66}
\ML{336.6,474.9}{69}
\ML{359.2,466.6}{67}
\ML{304.4,510.4}{68}
% yellow
\ML{555.2,24.1}{11}
\ML{550.8,57}{9}
\ML{580.8,74.2}{9}
\ML{558.9,105.3}{9}
\ML{571.3,111.4}{10}
\ML[text=gray!55]{613.5,117.6}{35}
\ML[rl,text=cYeL]{614.8,67.7}{Yakutia}
\ML{513.8,90.3}{6}
\ML{560.9,159.1}{8}
\ML{585.2,176.3}{5}
\ML{491.2,211.1}{7}
\ML{527.4,227.4}{7}
\ML[rl,text=cYeL,anchor=west]{591.9,138.6}{Novosibirsk}
\ML[rl,text=cYeL,anchor=west]{591.9,155.2}{Krasnoyarsk}
\ML{565.9,248.3}{2}
\ML{576.3,262.7}{3}
\ML{537.4,274.7}{1}
\ML{583.3,281.6}{4}
\ML[rl,text=cYeL]{639.6,244}{Ural}
\ML{566.4,312.8}{16}
\ML{643.3,297.7}{27,\textbf{28}}
\ML{679.3,317.7}{17,18}
\ML{618.5,323.5}{26}
\ML{698.4,347.7}{26}
\ML{700.4,183.8}{36\textcolor{gray!55}{,37}}
\ML{768,154.3}{39}
\ML[text=gray!55]{771.9,197.8}{37}
\ML[rl,text=cYeL,anchor=west]{788.2,168.7}{Western}
\ML[rl,text=cYeL,anchor=west]{788.2,186}{Transbaikalia}
\ML{461,340.3}{12,41}
\ML{572.6,357.8}{13}
\ML{632.1,351}{19,20,24,25}
\ML{444.8,362.3}{15,16,\textbf{28}}
\ML{556,370.1}{12}
\ML{509.3,379.5}{22}
\ML{619.2,379.1}{27}
\ML{566.9,401.5}{29}
\ML{440.4,427.8}{15}
\ML{458.5,429.1}{14}
\ML{459.7,473.4}{14}
\ML{488.5,474.9}{?}
\ML{575.8,451.6}{25}
\ML{523.5,512.6}{\textbf{28},29}
\ML{552.7,550.1}{\textbf{28}}
\ML{585.7,537.3}{\textbf{28}}
\ML[rl,text=cYeL]{646.3,419}{Altai-Sayan}
% green, blue
\ML{398.2,546.3}{38}
\ML[rl,text=cGlL]{449.3,547}{Irkutsk}
\ML{246.8,558.6}{44}
\ML{124,586.7}{43}
\ML{205.9,579.5}{44}
\ML{251.8,618.1}{40}
\ML[rl,text=cGdL]{178.6,612}{Southern Altai}
\ML{878.4,53.7}{84}
\ML[rl,text=cBlL]{924.6,46.2}{Eastern}
\ML[rl,text=cBlL]{924.6,62.8}{Tien-Shan}
% Beringia
\ML[rl,text=cCy]{1042.9,149.4}{North}
\ML[rl,text=cCy]{1042.9,166.6}{America}
\ML{1230.6,207.4}{71}
\ML{1207.7,247.2}{65,70,71}
\ML[rl,text=cTqL]{1207.7,259.5}{Omolon}
\ML{1341.8,219.3}{62}
\ML[rl,text=cTqL]{1376.8,208.5}{Magadan}
\ML[rl,text=cTqL]{1388.1,227.2}{Chukotka}
\ML{1306,238.6}{74}
\ML{1389.4,242.5}{74}
\ML[rl,text=cTqL]{1485,231.7}{Omolon}
\ML{1419,274.1}{65,70,71}
\ML{1434.7,248.3}{71}
\ML{1479.1,254.7}{70}
\ML{1518.7,266.1}{71}
\ML{1425.2,293.4}{62}
\ML[rl,text=cTqL]{1472.1,294.9}{Magadan}
\ML{1332.1,296.6}{76}
\ML{1360.6,329}{78}
\ML{1315.9,345.4}{78}
\ML{1306,357.8}{75}
\ML{1292,369.7}{77}
\ML{1398,361.6}{78}
\ML[rl,text=cTqL]{1431.2,333}{Kamchatka}
\ML{1161.4,380.2}{72}
\ML{1180.2,394.4}{72,73}
\ML{1161.9,422.9}{73}
\ML{1182.9,468.9}{73}
\ML[rl,text=cTqL,anchor=west]{1129.8,468.9}{NE}
\ML[rl,text=cTqL,anchor=west]{1129.8,486.4}{Chukotka}
\ML{1241.3,361.1}{62,64}
\ML{1225.2,395.9}{64}
\ML{1254.8,399.7}{62,63}
\ML{1263.4,385.8}{64}
\ML{1236.8,436.3}{64}
\ML{1258.3,430.7}{62}
\ML[rl,text=cTqL]{1246.7,457.6}{Magadan}
\ML{1310,457.6}{79,83}
\ML{1308.1,496.9}{79}
\ML{1347.7,467.7}{79}
\ML{1362.5,508.8}{79}
\ML{1437.4,507}{79}
\ML{1363,422.9}{79,81}
\ML{1408.3,408.3}{82}
\ML{1422.3,428.9}{82}
\ML{1496.3,485.7}{80}
\ML[rl,text=cTqL]{1416.9,531}{Kuril Islands}
% Northern Europe
\ML[rl,text=cPuL]{826.4,504.3}{Belarus}
\ML{875.3,504.8}{91}
\ML{824.6,641.7}{85}
\ML[rl,text=cPuL]{762.2,686.4}{Russia}
\ML{795.2,726.5}{86}
\ML{737.4,759.9}{89,90}
\ML{801.1,801.3}{88}
\ML{901,719}{85}
\ML{916.1,856.2}{108}
\ML{951.1,897.4}{102}
\ML{952.3,937.5}{102}
\ML{854.3,910.3}{112}
\ML{826,937.5}{112}
\ML[rl,text=cPuL]{880.2,968.2}{Norway}
\ML{1007.8,675.5}{100}
\ML{1036.1,703.8}{100}
\ML{993.1,713.4}{97}
\ML{984.6,735}{99}
\ML{1023.8,753.9}{96}
\ML{1022.4,770.6}{92}
\ML{1030.2,786.6}{92}
\ML{1046.8,802.8}{110}
\ML{1083.8,750.1}{93,98}
\ML{1085.7,711.6}{95}
\ML{1191.3,756.5}{111}
\ML{1073.9,837.8}{94}
\ML{1135.3,850.7}{106}
\ML{1225.9,837.3}{104,105}
\ML{1251.4,787.9}{103}
\ML{1284.1,828.4}{107}
\ML{985.8,969.1}{109}
\ML[rl,text=cPuL]{984.6,988.2}{Norway}
\ML{1057.4,951.9}{87}
\ML[rl,text=cPuL]{1068,968.6}{Russia}
\ML[rl,text=cPuL,anchor=west]{1309.2,831.1}{Norway}
\ML[rl,text=cPuL,anchor=west]{1309.2,847.8}{Finland}
\ML[rl,text=cPuL,anchor=west]{1309.2,865.1}{Sweden}
% Central Europe
\ML[rl,text=cPkL]{154.8,723.4}{Southern Poland}
\ML{284.4,804.6}{119}
\ML{302.6,816.2}{118}
\ML{398.5,808.4}{120}
\ML{420,825.5}{116}
\ML[rl,text=cPkL]{229.8,856.9}{Norway}
\ML{267.9,857.3}{113}
\ML{289.4,884}{120,121}
\ML{264.6,905.9}{113}
\ML[rl,text=cPkL]{133.3,932.6}{Sweden}
\ML{172,933.4}{101}
\ML{414,948.1}{117}
\ML{228.2,973.1}{114}
\ML[rl,text=cPkL]{203.4,988.2}{Netherlands}
\ML{261.2,992}{115}
\end{tikzpicture}
\end{document}
